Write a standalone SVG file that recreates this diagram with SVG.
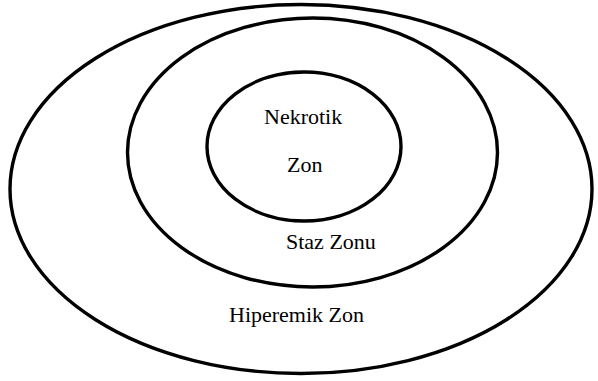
<svg xmlns="http://www.w3.org/2000/svg" width="598" height="381" viewBox="0 0 598 381">
<style>
.z{fill:none;stroke:#000;stroke-width:3.4}
.t{font-family:'Liberation Serif','Times New Roman',Times,serif;font-size:22px;fill:#000}
</style>
<rect width="598" height="381" fill="#fff"/>
<g id="hiperemik">
<ellipse class="z" cx="301" cy="189" rx="291" ry="184.5"/>
<text class="t" x="229" y="322">Hiperemik Zon</text>
</g>
<g id="staz">
<ellipse class="z" cx="312.5" cy="152.5" rx="185" ry="134.5"/>
<text class="t" x="286" y="249">Staz Zonu</text>
</g>
<g id="nekrotik">
<ellipse class="z" cx="304" cy="146.5" rx="97" ry="74.5"/>
<text class="t" x="264" y="124">Nekrotik</text>
<text class="t" x="287" y="172">Zon</text>
</g>
<g id="connectors"/>
</svg>
